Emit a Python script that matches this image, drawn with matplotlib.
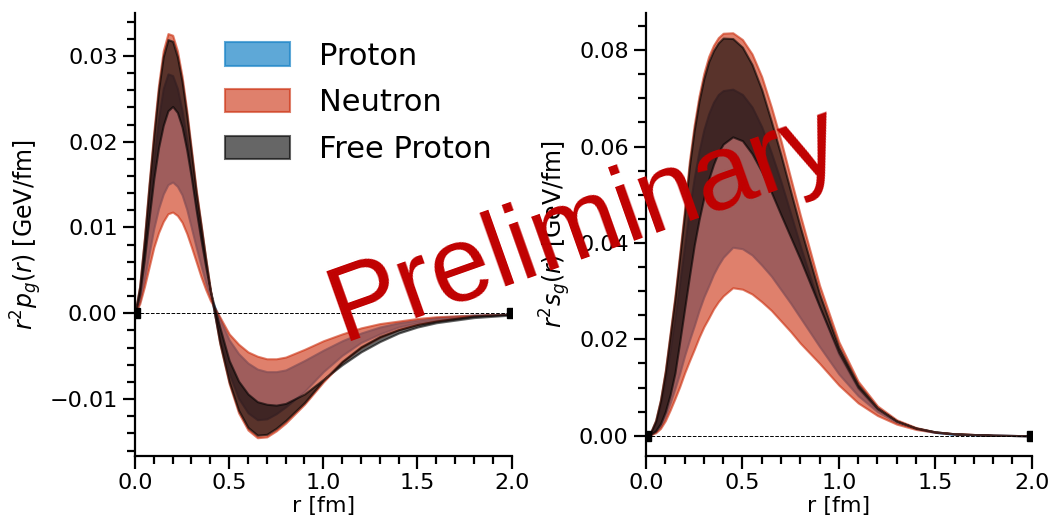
import matplotlib
matplotlib.use("Agg")
import matplotlib.pyplot as plt
from matplotlib.ticker import MultipleLocator

# radial grid [fm]
r = [0, 0.025, 0.05, 0.075, 0.1, 0.125, 0.15, 0.175, 0.2, 0.225, 0.25, 0.275, 0.3,
     0.325, 0.35, 0.375, 0.4, 0.45, 0.5, 0.55, 0.6, 0.65, 0.7, 0.75, 0.8, 0.9,
     1.0, 1.1, 1.2, 1.3, 1.4, 1.5, 1.6, 1.8, 2.0]

# r^2 p_g(r): band edges (a = large-amplitude edge, b = small-amplitude edge)
p_proton_a = [0, 0.0027, 0.0075, 0.0130, 0.0181, 0.0227, 0.0262, 0.0279, 0.0277, 0.0262, 0.0236, 0.0202, 0.0162,
              0.0123, 0.0090, 0.0056, 0.0024, -0.0030, -0.0070, -0.0099, -0.0116, -0.0124, -0.0123, -0.0117, -0.0109, -0.0091,
              -0.0068, -0.0049, -0.0034, -0.0024, -0.0016, -0.0011, -0.0008, -0.0003, -0.0001]
p_proton_b = [0, 0.0014, 0.0040, 0.0070, 0.0099, 0.0122, 0.0139, 0.0150, 0.0153, 0.0148, 0.0138, 0.0121, 0.0099,
              0.0077, 0.0056, 0.0036, 0.0019, -0.0006, -0.0031, -0.0047, -0.0058, -0.0065, -0.0068, -0.0068, -0.0066, -0.0055,
              -0.0043, -0.0032, -0.0023, -0.0016, -0.0011, -0.0008, -0.0005, -0.0002, -0.0001]
p_neutron_a = [0, 0.0032, 0.0088, 0.0152, 0.0212, 0.0266, 0.0306, 0.0326, 0.0324, 0.0306, 0.0276, 0.0236, 0.0190,
               0.0144, 0.0105, 0.0065, 0.0028, -0.0035, -0.0082, -0.0116, -0.0136, -0.0145, -0.0144, -0.0137, -0.0128, -0.0106,
               -0.0080, -0.0057, -0.0040, -0.0028, -0.0019, -0.0013, -0.0009, -0.0003, -0.0001]
p_neutron_b = [0, 0.0011, 0.0031, 0.0054, 0.0077, 0.0094, 0.0107, 0.0116, 0.0118, 0.0114, 0.0106, 0.0093, 0.0077,
               0.0060, 0.0043, 0.0028, 0.0015, -0.0004, -0.0024, -0.0036, -0.0045, -0.0050, -0.0053, -0.0053, -0.0051, -0.0042,
               -0.0032, -0.0024, -0.0017, -0.0012, -0.0009, -0.0006, -0.0004, -0.0002, -0.0001]
p_free_a = [0, 0.0031, 0.0086, 0.0149, 0.0207, 0.0260, 0.0299, 0.0319, 0.0317, 0.0299, 0.0270, 0.0231, 0.0186,
            0.0141, 0.0103, 0.0064, 0.0027, -0.0034, -0.0080, -0.0113, -0.0133, -0.0142, -0.0141, -0.0134, -0.0125, -0.0104,
            -0.0078, -0.0056, -0.0039, -0.0027, -0.0019, -0.0013, -0.0009, -0.0003, -0.0001]
p_free_b = [0, 0.0022, 0.0063, 0.0111, 0.0157, 0.0193, 0.0219, 0.0236, 0.0241, 0.0234, 0.0217, 0.0190, 0.0157,
            0.0120, 0.0086, 0.0055, 0.0026, -0.0016, -0.0055, -0.0079, -0.0094, -0.0103, -0.0106, -0.0107, -0.0105, -0.0094,
            -0.0077, -0.0060, -0.0045, -0.0033, -0.0023, -0.0016, -0.0011, -0.0005, -0.0002]

# r^2 s_g(r)
s_proton_a = [0, 0.0007, 0.0027, 0.0063, 0.0114, 0.0178, 0.0245, 0.0318, 0.0393, 0.0470, 0.0535, 0.0590, 0.0635,
              0.0668, 0.0692, 0.0708, 0.0716, 0.0719, 0.0708, 0.0682, 0.0641, 0.0587, 0.0527, 0.0461, 0.0394, 0.0268,
              0.0168, 0.0097, 0.0053, 0.0028, 0.0015, 0.0007, 0.0003, 0.0001, 0.0]
s_proton_b = [0, 0.0003, 0.0008, 0.0019, 0.0040, 0.0068, 0.0098, 0.0130, 0.0166, 0.0198, 0.0228, 0.0260, 0.0288,
              0.0311, 0.0335, 0.0354, 0.0370, 0.0391, 0.0388, 0.0375, 0.0354, 0.0331, 0.0303, 0.0275, 0.0245, 0.0185,
              0.0128, 0.0083, 0.0050, 0.0028, 0.0015, 0.0007, 0.0003, 0.0001, 0.0]
s_neutron_a = [0, 0.0008, 0.0032, 0.0075, 0.0135, 0.0213, 0.0290, 0.0380, 0.0470, 0.0570, 0.0645, 0.0705, 0.0752,
               0.0787, 0.0810, 0.0826, 0.0835, 0.0836, 0.0822, 0.0792, 0.0745, 0.0682, 0.0612, 0.0535, 0.0458, 0.0312,
               0.0195, 0.0113, 0.0062, 0.0033, 0.0017, 0.0008, 0.0004, 0.0001, 0.0]
s_neutron_b = [0, 0.0002, 0.0006, 0.0015, 0.0031, 0.0053, 0.0077, 0.0102, 0.0130, 0.0155, 0.0179, 0.0204, 0.0226,
               0.0244, 0.0263, 0.0278, 0.0290, 0.0307, 0.0304, 0.0294, 0.0278, 0.0260, 0.0238, 0.0216, 0.0192, 0.0150,
               0.0105, 0.0068, 0.0042, 0.0024, 0.0013, 0.0007, 0.0004, 0.0001, 0.0]
s_free_a = [0, 0.0008, 0.0031, 0.0073, 0.0132, 0.0208, 0.0284, 0.0372, 0.0461, 0.0559, 0.0634, 0.0694, 0.0741,
            0.0776, 0.0799, 0.0815, 0.0825, 0.0824, 0.0806, 0.0770, 0.0718, 0.0652, 0.0582, 0.0507, 0.0433, 0.0294,
            0.0183, 0.0106, 0.0058, 0.0031, 0.0016, 0.0008, 0.0004, 0.0001, 0.0]
s_free_b = [0, 0.0003, 0.0010, 0.0025, 0.0050, 0.0085, 0.0130, 0.0195, 0.0263, 0.0330, 0.0395, 0.0448, 0.0494,
            0.0532, 0.0563, 0.0588, 0.0605, 0.0620, 0.0612, 0.0585, 0.0548, 0.0505, 0.0458, 0.0412, 0.0366, 0.0268,
            0.0172, 0.0100, 0.0056, 0.0030, 0.0016, 0.0008, 0.0004, 0.0001, 0.0]

labels = ["Proton", "Neutron", "Free Proton"]
colors = ["#1a83c7", "#cb2b0a", "black"]
alphas = [0.7, 0.6, 0.6]

plt.rcParams["font.family"] = "DejaVu Sans"
plt.rcParams["font.size"] = 16

fig = plt.figure(figsize=(10.58, 5.25), dpi=100)
ax1 = fig.add_axes([0.1276, 0.1314, 0.356, 0.8444])
ax2 = fig.add_axes([0.6106, 0.1314, 0.3645, 0.8444])

panels = [
    (ax1, [(p_proton_a, p_proton_b), (p_neutron_a, p_neutron_b), (p_free_a, p_free_b)],
     (-0.01663, 0.03503), 0.01, 0.002, r"$r^2p_g(r)$ [GeV/fm]"),
    (ax2, [(s_proton_a, s_proton_b), (s_neutron_a, s_neutron_b), (s_free_a, s_free_b)],
     (-0.00421, 0.08776), 0.02, 0.005, r"$r^2s_g(r)$ [GeV/fm]"),
]

for ax, bands, ylim, ymaj, ymin, ylab in panels:
    for (a, b), lab, c, al in zip(bands, labels, colors, alphas):
        ax.fill_between(r, a, b, color=c, alpha=al, lw=1.5, label=lab)
    ax.plot([r[0], r[-1]], [0, 0], color="k", ls="--", lw=0.7, marker="s", ms=7, zorder=5)
    ax.set_xlim(0, 2)
    ax.set_ylim(*ylim)
    ax.xaxis.set_major_locator(MultipleLocator(0.5))
    ax.xaxis.set_minor_locator(MultipleLocator(0.1))
    ax.yaxis.set_major_locator(MultipleLocator(ymaj))
    ax.yaxis.set_minor_locator(MultipleLocator(ymin))
    ax.tick_params(which="major", length=9, width=1.6, labelsize=16)
    ax.tick_params(which="minor", length=6, width=1.6)
    for side in ["top", "right"]:
        ax.spines[side].set_visible(False)
    for side in ["left", "bottom"]:
        ax.spines[side].set_linewidth(1.6)
    ax.set_xlabel("r [fm]", fontsize=16, labelpad=2)
    ax.set_ylabel(ylab, fontsize=17)

ax1.legend(loc="upper left", bbox_to_anchor=(0.24, 0.935), frameon=False, fontsize=22,
           borderpad=0, borderaxespad=0, handlelength=2.1, handleheight=0.8,
           handletextpad=0.95, labelspacing=0.58)

fig.text(0.323, 0.350, "Preliminary", color="#c00000", fontsize=77,
         family="Liberation Sans", rotation=19.5, rotation_mode="anchor",
         ha="left", va="baseline", zorder=10)

fig.savefig("out.png", dpi=100)
